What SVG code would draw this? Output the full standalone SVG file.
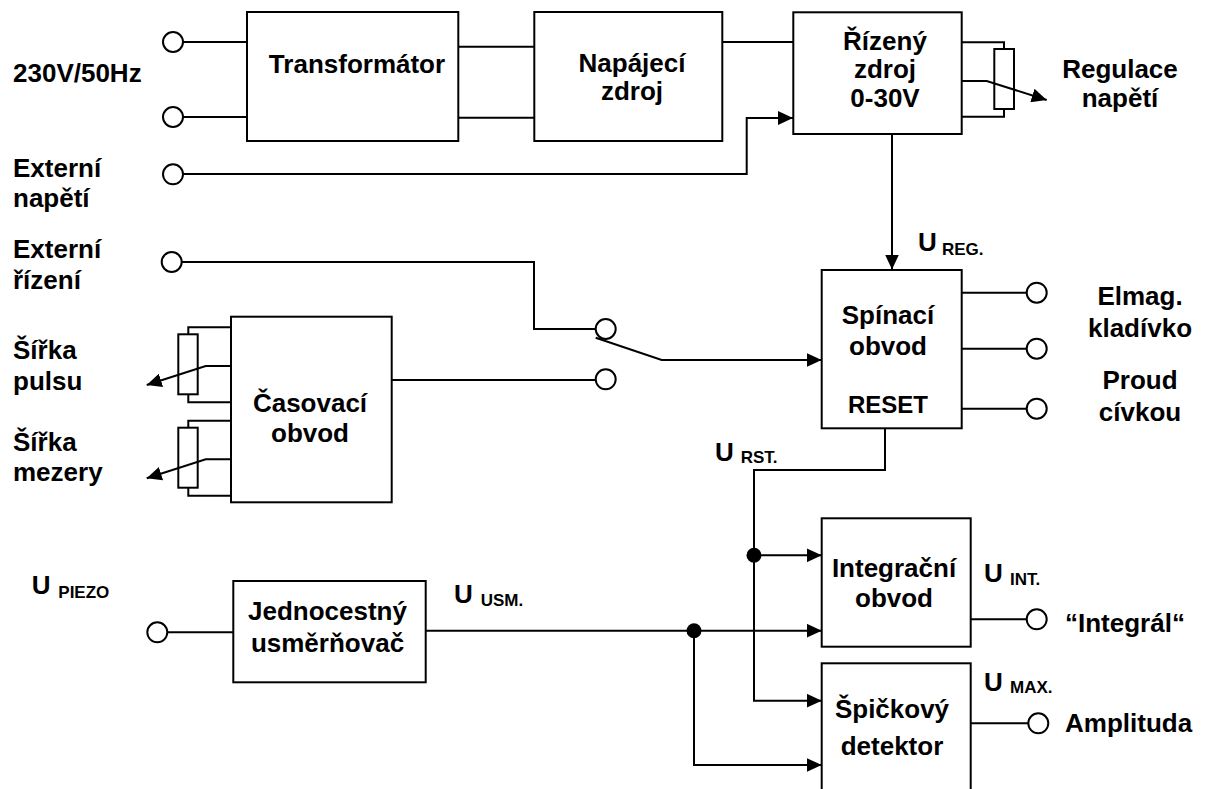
<svg xmlns="http://www.w3.org/2000/svg" width="1205" height="789" viewBox="0 0 1205 789">
<style>
  .box { fill: #fff; stroke: #000; stroke-width: 2; }
  .w { fill: none; stroke: #000; stroke-width: 2; }
  .term { fill: #fff; stroke: #000; stroke-width: 2; }
  .dot { fill: #000; }
  text { font-family: "Liberation Sans", Arial, sans-serif; font-weight: bold; fill: #000; }
  .t { font-size: 26px; }
  .c { text-anchor: middle; }
  .s { font-size: 17px; }
  .r { font-size: 24px; }
</style>
<defs>
  <marker id="arr" markerUnits="userSpaceOnUse" markerWidth="15" markerHeight="14" refX="15" refY="7" orient="auto">
    <path d="M0,0 L15,7 L0,14 z" fill="#000"/>
  </marker>
</defs>

<g id="connectors">
  <path class="w" d="M183,42 H247"/>
  <path class="w" d="M183,117 H247"/>
  <path class="w" d="M458,46.7 H534"/>
  <path class="w" d="M458,117.7 H534"/>
  <path class="w" d="M722,42 H793"/>
  <path class="w" d="M183,174 H746.7 V118 H793" marker-end="url(#arr)"/>
  <path class="w" d="M892,134 V269.5" marker-end="url(#arr)"/>
  <path class="w" d="M181.7,262 H534 V329 H595.7"/>
  <path class="w" d="M391.7,380 H595.7"/>
  <path class="w" d="M595.7,337.7 L661.7,360 H821.7" marker-end="url(#arr)"/>
  <path class="w" d="M962,292.7 H1026.7"/>
  <path class="w" d="M962,348.7 H1026.7"/>
  <path class="w" d="M962,408.7 H1026.7"/>
  <path class="w" d="M885,428.3 V470 H754 V700.7 H821.7" marker-end="url(#arr)"/>
  <path class="w" d="M754,555.3 H821.7" marker-end="url(#arr)"/>
  <path class="w" d="M167.3,632.3 H233.3"/>
  <path class="w" d="M425.7,630.7 H821.7" marker-end="url(#arr)"/>
  <path class="w" d="M694,630.7 V765 H821.7" marker-end="url(#arr)"/>
  <path class="w" d="M970.7,619.3 H1026.7"/>
  <path class="w" d="M970.7,723.3 H1028.3"/>
  <circle class="dot" cx="694" cy="630.7" r="7.5"/>
  <circle class="dot" cx="754" cy="555.3" r="7.5"/>
</g>

<g id="terminals">
  <circle class="term" cx="173" cy="42" r="10"/>
  <circle class="term" cx="173" cy="117" r="10"/>
  <circle class="term" cx="173" cy="174.3" r="10"/>
  <circle class="term" cx="171.7" cy="262" r="10"/>
  <circle class="term" cx="605.7" cy="329" r="10"/>
  <circle class="term" cx="605.7" cy="379.3" r="10"/>
  <circle class="term" cx="1036.7" cy="292.7" r="10"/>
  <circle class="term" cx="1036.7" cy="348.7" r="10"/>
  <circle class="term" cx="1036.7" cy="408.7" r="10"/>
  <circle class="term" cx="157.3" cy="632.3" r="10"/>
  <circle class="term" cx="1036.7" cy="619.3" r="10"/>
  <circle class="term" cx="1038.3" cy="723.3" r="10"/>
</g>

<g id="pot-regulace">
  <path class="w" d="M962,42.3 H1004 V49"/>
  <path class="w" d="M962,116.7 H1004 V109"/>
  <rect class="box" x="994.3" y="49" width="19.7" height="60"/>
  <path class="w" d="M962,81 H986.7 L1046.7,100" marker-end="url(#arr)"/>
</g>

<g id="pot-pulsu">
  <path class="w" d="M231,327.3 H188.3 V334.3"/>
  <path class="w" d="M231,402.3 H188.3 V394.3"/>
  <rect class="box" x="178.3" y="334.3" width="19.4" height="60"/>
  <path class="w" d="M231,366 H205.7 L146.7,385" marker-end="url(#arr)"/>
</g>

<g id="pot-mezery">
  <path class="w" d="M231,420.7 H188.3 V427.7"/>
  <path class="w" d="M231,495.7 H188.3 V487.7"/>
  <rect class="box" x="178.3" y="427.7" width="19.4" height="60"/>
  <path class="w" d="M231,459.3 H205.7 L146.7,478.3" marker-end="url(#arr)"/>
</g>

<g id="transformator">
  <rect class="box" x="247" y="12" width="211.3" height="129"/>
  <text class="t c" x="357" y="73.3">Transformátor</text>
</g>

<g id="napajeci-zdroj">
  <rect class="box" x="534.3" y="12" width="188" height="129"/>
  <text class="t c" x="632" y="71.7">Napájecí</text>
  <text class="t c" x="632" y="100">zdroj</text>
</g>

<g id="rizeny-zdroj">
  <rect class="box" x="793.3" y="12.3" width="168.4" height="121.7"/>
  <text class="t c" x="885" y="50">Řízený</text>
  <text class="t c" x="885" y="78">zdroj</text>
  <text class="t c" x="885" y="107">0-30V</text>
</g>

<g id="spinaci-obvod">
  <rect class="box" x="821.7" y="270" width="140" height="158.3"/>
  <text class="t c" x="888" y="324">Spínací</text>
  <text class="t c" x="888" y="355">obvod</text>
  <text class="r c" x="888" y="413.3">RESET</text>
</g>

<g id="casovaci-obvod">
  <rect class="box" x="231" y="316.7" width="160.7" height="185.6"/>
  <text class="t c" x="310" y="411.7">Časovací</text>
  <text class="t c" x="310" y="441.7">obvod</text>
</g>

<g id="jednocestny-usmernovac">
  <rect class="box" x="233.3" y="581" width="192.4" height="101.3"/>
  <text class="t c" x="327.5" y="620">Jednocestný</text>
  <text class="t c" x="327.5" y="651.7">usměrňovač</text>
</g>

<g id="integracni-obvod">
  <rect class="box" x="821.7" y="518.3" width="149" height="128.4"/>
  <text class="t c" x="894" y="576.7">Integrační</text>
  <text class="t c" x="894" y="606.7">obvod</text>
</g>

<g id="spickovy-detektor">
  <rect class="box" x="821.7" y="663.3" width="149" height="140"/>
  <text class="t c" x="892" y="718.3">Špičkový</text>
  <text class="t c" x="892" y="755">detektor</text>
</g>

<g id="labels">
  <text class="t" x="13" y="82">230V/50Hz</text>
  <text class="t" x="13" y="176.7">Externí</text>
  <text class="t" x="13" y="206.7">napětí</text>
  <text class="t" x="13" y="258.3">Externí</text>
  <text class="t" x="13" y="289.3">řízení</text>
  <text class="t" x="13" y="359.3">Šířka</text>
  <text class="t" x="13" y="390">pulsu</text>
  <text class="t" x="13" y="451">Šířka</text>
  <text class="t" x="13" y="481">mezery</text>
  <text class="t c" x="1120" y="78">Regulace</text>
  <text class="t c" x="1120" y="107">napětí</text>
  <text class="t c" x="1140" y="305">Elmag.</text>
  <text class="t c" x="1140" y="337">kladívko</text>
  <text class="t c" x="1140" y="389">Proud</text>
  <text class="t c" x="1140" y="420.7">cívkou</text>
  <text class="t" x="1065" y="631.7">“Integrál“</text>
  <text class="t" x="1065" y="731.7">Amplituda</text>
  <text class="t" x="918" y="250.7">U</text><text class="s" x="942" y="255">REG.</text>
  <text class="t" x="715" y="460.7">U</text><text class="s" x="740.7" y="463.3">RST.</text>
  <text class="t" x="31.7" y="594.3">U</text><text class="s" x="58.3" y="597.7">PIEZO</text>
  <text class="t" x="454" y="602.7">U</text><text class="s" x="480.7" y="606">USM.</text>
  <text class="t" x="984" y="581.7">U</text><text class="s" x="1010" y="585">INT.</text>
  <text class="t" x="984" y="690.7">U</text><text class="s" x="1010" y="693.3">MAX.</text>
</g>
</svg>
